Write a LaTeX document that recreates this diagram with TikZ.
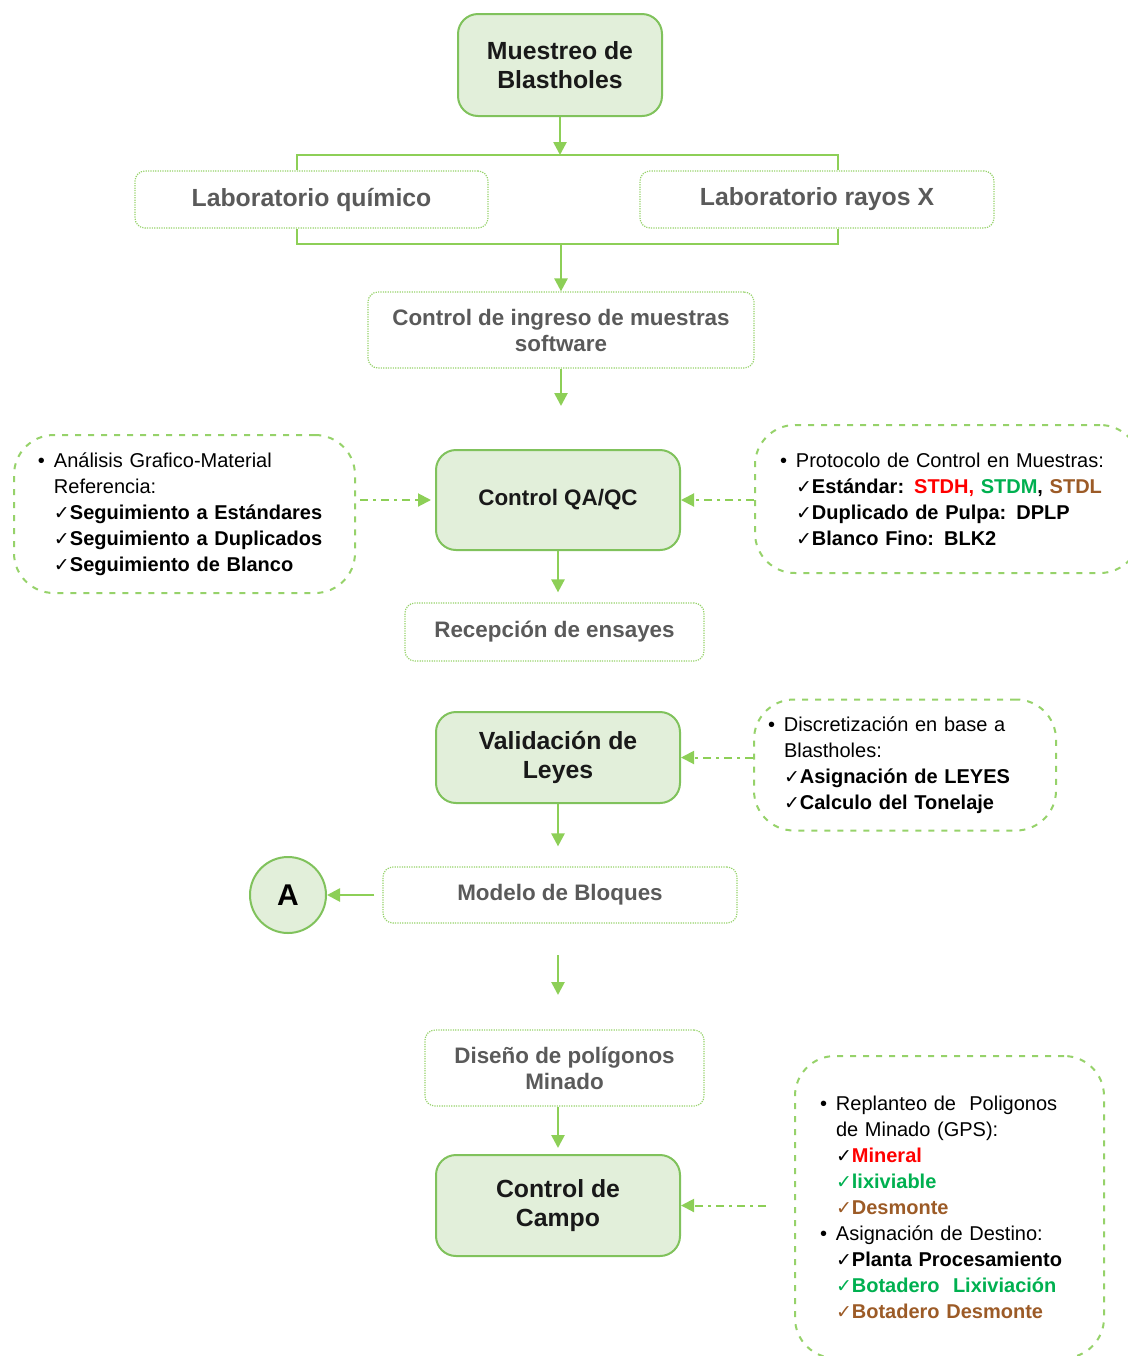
\documentclass[tikz,border=0pt]{standalone}
\usepackage{fontspec}
\setmainfont{Liberation Sans}
\newfontfamily\symfont{DejaVu Sans}
\usetikzlibrary{arrows.meta}
\usetikzlibrary{positioning}
\definecolor{boxgreen}{HTML}{E2EFDA}
\definecolor{edgegreen}{HTML}{80C25C}
\definecolor{arrowgreen}{HTML}{8DCF57}
\definecolor{dotgreen}{HTML}{96D26A}
\definecolor{txtgray}{HTML}{5A5A5A}
\definecolor{stdred}{HTML}{FF0000}
\definecolor{stdgreen}{HTML}{00B050}
\definecolor{stdbrown}{HTML}{9C5B27}
\newcommand{\chk}{{\symfont\fontsize{9.5}{13}\selectfont\char"2713}}
\newcommand{\bul}{\makebox[8pt][l]{\textbullet}}
\newcommand{\sideind}{\hspace*{8pt}}

\begin{document}
\begin{tikzpicture}[x=0.5pt,y=-0.5pt,>={Triangle[length=6.5pt,width=6.5pt]},
    main node/.style={rectangle,rounded corners=10pt,draw=edgegreen,fill=boxgreen,line width=1pt,
      minimum width=122pt,align=center,text=black!90,font=\bfseries\fontsize{12.4}{14.5}\selectfont},
    lab node/.style={rectangle,rounded corners=5pt,draw=dotgreen,line width=0.6pt,
      dash pattern=on 0.6pt off 0.6pt,align=center,text=txtgray,font=\bfseries\fontsize{11.2}{13}\selectfont},
    side node/.style={rectangle,rounded corners=20pt,draw=dotgreen,line width=1pt,
      dash pattern=on 3pt off 3.5pt,align=left,font=\fontsize{10}{13}\selectfont},
    flow/.style={->,draw=arrowgreen,line width=1.3pt},
    link/.style={->,draw=arrowgreen,line width=1pt,dash pattern=on 4pt off 2.5pt on 1.5pt off 2.5pt}]
    \useasboundingbox (0,0) rectangle (1128,1356);

    % main column
    \node[main node,minimum height=51pt,minimum width=102pt] (muestreo) at (560,65) {Muestreo de\\Blastholes};
    \node[lab node,minimum width=176.5pt,minimum height=28.5pt,font=\bfseries\fontsize{12.4}{14}\selectfont] (labq) at (311.5,199.5) {Laboratorio químico};
    \node[lab node,minimum width=177pt,minimum height=28.5pt,font=\bfseries\fontsize{12.4}{14}\selectfont] (labx) at (817,199.5) {Laboratorio rayos X};
    \node[lab node,minimum width=193pt,minimum height=38pt] (ingreso) at (561,330) {Control de ingreso de muestras\\software};
    \node[main node,minimum height=50pt,font=\bfseries\fontsize{11.2}{13}\selectfont] (qaqc) at (558,500) {Control QA/QC};
    \node[lab node,minimum width=149.5pt,minimum height=29pt] (recep) at (554.5,632) {Recepción de ensayes};
    \node[main node,minimum height=45.5pt] (valid) at (558,757.5) {Validación de\\Leyes};
    \node[lab node,minimum width=177pt,minimum height=28pt] (modelo) at (560,895) {Modelo de Bloques};
    \node[circle,draw=edgegreen,fill=boxgreen,line width=1pt,minimum size=38pt,inner sep=0pt,
      font=\bfseries\fontsize{15}{17}\selectfont] (circA) at (288,895) {A};
    \node[lab node,minimum width=139.5pt,minimum height=38pt] (diseno) at (564.5,1068) {Diseño de polígonos\\Minado};
    \node[main node,minimum height=50.5pt] (campo) at (558,1205.5) {Control de\\Campo};

    % side notes
    \node[side node,minimum width=170.5pt,minimum height=79pt,text width=146.5pt,inner xsep=12pt] (sideL) at (184.5,514) {%
      \bul Análisis Grafico-Material\\
      \sideind Referencia:\\
      \sideind\chk\textbf{Seguimiento a Estándares}\\
      \sideind\chk\textbf{Seguimiento a Duplicados}\\
      \sideind\chk\textbf{Seguimiento de Blanco}};
    \node[side node,minimum width=192.5pt,minimum height=74pt,text width=167.5pt,inner xsep=12.5pt] (sideR) at (947.5,499) {%
      \bul Protocolo de Control en Muestras:\\
      \sideind\chk\textbf{Estándar: \textcolor{stdred}{STDH,} \textcolor{stdgreen}{STDM}, \textcolor{stdbrown}{STDL}}\\
      \sideind\chk\textbf{Duplicado de Pulpa: DPLP}\\
      \sideind\chk\textbf{Blanco Fino: BLK2}};
    \node[side node,minimum width=151pt,minimum height=65.5pt,text width=137pt,inner xsep=7pt] (sideV) at (905,765) {%
      \bul Discretización en base a\\
      \sideind Blastholes:\\
      \sideind\chk\textbf{Asignación de LEYES}\\
      \sideind\chk\textbf{Calculo del Tonelaje}};
    \node[side node,minimum width=154.5pt,minimum height=151pt,text width=129.5pt,inner xsep=12.5pt] (sideC) at (949.5,1207) {%
      \bul Replanteo de\ \ Poligonos\\
      \sideind de Minado (GPS):\\
      \sideind\chk\textbf{\textcolor{stdred}{Mineral}}\\
      \sideind\textcolor{stdgreen}{\chk\textbf{lixiviable}}\\
      \sideind\textcolor{stdbrown}{\chk\textbf{Desmonte}}\\
      \bul Asignación de Destino:\\
      \sideind\chk\textbf{Planta Procesamiento}\\
      \sideind\textcolor{stdgreen}{\chk\textbf{Botadero\ \ Lixiviación}}\\
      \sideind\textcolor{stdbrown}{\chk\textbf{Botadero Desmonte}}};

    % bracket round the two labs
    \coordinate (tl) at (297,155);
    \coordinate (tr) at (838,155);
    \coordinate (bl) at (297,244);
    \coordinate (br) at (838,244);
    \coordinate (q1) at (561,406);
    \coordinate (m1) at (558,955);
    \coordinate (m2) at (558,995);
    \draw[arrowgreen,line width=1pt] (labq.north -| tl) -- (tl) -- (tr) -- (labx.north -| tr);
    \draw[arrowgreen,line width=1pt] (labq.south -| bl) -- (bl) -- (br) -- (labx.south -| br);

    % arrows
    \draw[flow] (muestreo.south) -- (muestreo.south |- tl);
    \draw[flow] (ingreso.north |- bl) -- (ingreso.north);
    \draw[flow] (ingreso.south) -- (q1);
    \draw[flow,shorten >=5pt] (qaqc.south) -- (qaqc.south |- recep.north);
    \draw[flow,shorten >=10pt] (valid.south) -- (valid.south |- modelo.north);
    \draw[flow,shorten <=4pt] (modelo.west) -- (circA.east);
    \draw[flow] (m1) -- (m2);
    \draw[flow,shorten >=3pt] (diseno.south -| m1) -- (campo.north -| m1);

    % dashed links from the notes
    \draw[link,shorten <=2pt,shorten >=2pt] (sideL.east |- qaqc.west) -- (qaqc.west);
    \draw[link] (sideR.west |- qaqc.east) -- (qaqc.east);
    \draw[link] (sideV.west |- valid.east) -- (valid.east);
    \draw[link,shorten <=14pt] (sideC.west |- campo.east) -- (campo.east);
\end{tikzpicture}
\end{document}
